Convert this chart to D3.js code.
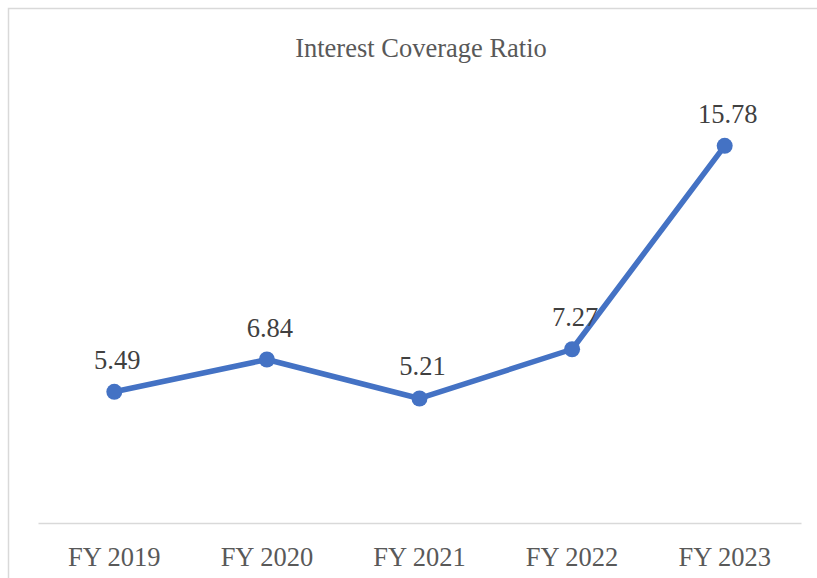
<!DOCTYPE html>
<html>
<head>
<meta charset="utf-8">
<script src="https://cdn.jsdelivr.net/npm/d3@7"></script>
<style>
  body { margin: 0; background: #fff; }
  svg { display: block; }
</style>
</head>
<body>
<svg width="817" height="578"></svg>
<script>
  var categories = ["FY 2019", "FY 2020", "FY 2021", "FY 2022", "FY 2023"];
  var ratios = [5.49, 6.84, 5.21, 7.27, 15.78];
  var labels = ["5.49", "6.84", "5.21", "7.27", "15.78"];

  var svg = d3.select("svg"),
      width = +svg.attr("width"),
      height = +svg.attr("height");

  var font = "'Liberation Serif', 'Times New Roman', serif";

  // chart frame (cut off on the right and bottom)
  svg.append("rect")
    .attr("x", 8.5).attr("y", 8.5)
    .attr("width", 830).attr("height", 600)
    .attr("fill", "#fff")
    .attr("stroke", "#d9d9d9").attr("stroke-width", 1.5);

  var x = d3.scaleBand().domain(categories).range([38, 801]);
  var y = d3.scaleLinear().domain([0, 20]).range([523, 45]);

  // title
  svg.append("text")
    .attr("x", 421).attr("y", 57)
    .attr("text-anchor", "middle")
    .attr("font-family", font).attr("font-size", "26.5px")
    .attr("fill", "#595959")
    .text("Interest Coverage Ratio");

  // category axis
  var axis = svg.append("g")
    .attr("transform", "translate(0," + y(0) + ")")
    .call(d3.axisBottom(x).tickSize(0).tickPadding(24));
  axis.select(".domain").attr("stroke", "#d9d9d9").attr("stroke-width", 1.5);
  axis.selectAll("text")
    .attr("font-family", font).attr("font-size", "26.5px")
    .attr("fill", "#595959");

  var data = categories.map(function(c, i) {
    return { cat: c, value: ratios[i], label: labels[i] };
  });

  var line = d3.line()
    .x(function(d) { return x(d.cat) + x.bandwidth() / 2; })
    .y(function(d) { return y(d.value); });

  svg.append("path")
    .datum(data)
    .attr("d", line)
    .attr("fill", "none")
    .attr("stroke", "#4472c4")
    .attr("stroke-width", 5.5)
    .attr("stroke-linejoin", "round");

  svg.append("g").selectAll("circle")
    .data(data)
    .enter().append("circle")
    .attr("cx", function(d) { return x(d.cat) + x.bandwidth() / 2; })
    .attr("cy", function(d) { return y(d.value); })
    .attr("r", 8)
    .attr("fill", "#4472c4");

  svg.append("g").selectAll("text")
    .data(data)
    .enter().append("text")
    .attr("x", function(d) { return x(d.cat) + x.bandwidth() / 2 + 3; })
    .attr("y", function(d) { return y(d.value) - 23; })
    .attr("text-anchor", "middle")
    .attr("font-family", font).attr("font-size", "26.5px")
    .attr("fill", "#404040")
    .text(function(d) { return d.label; });
</script>
</body>
</html>
